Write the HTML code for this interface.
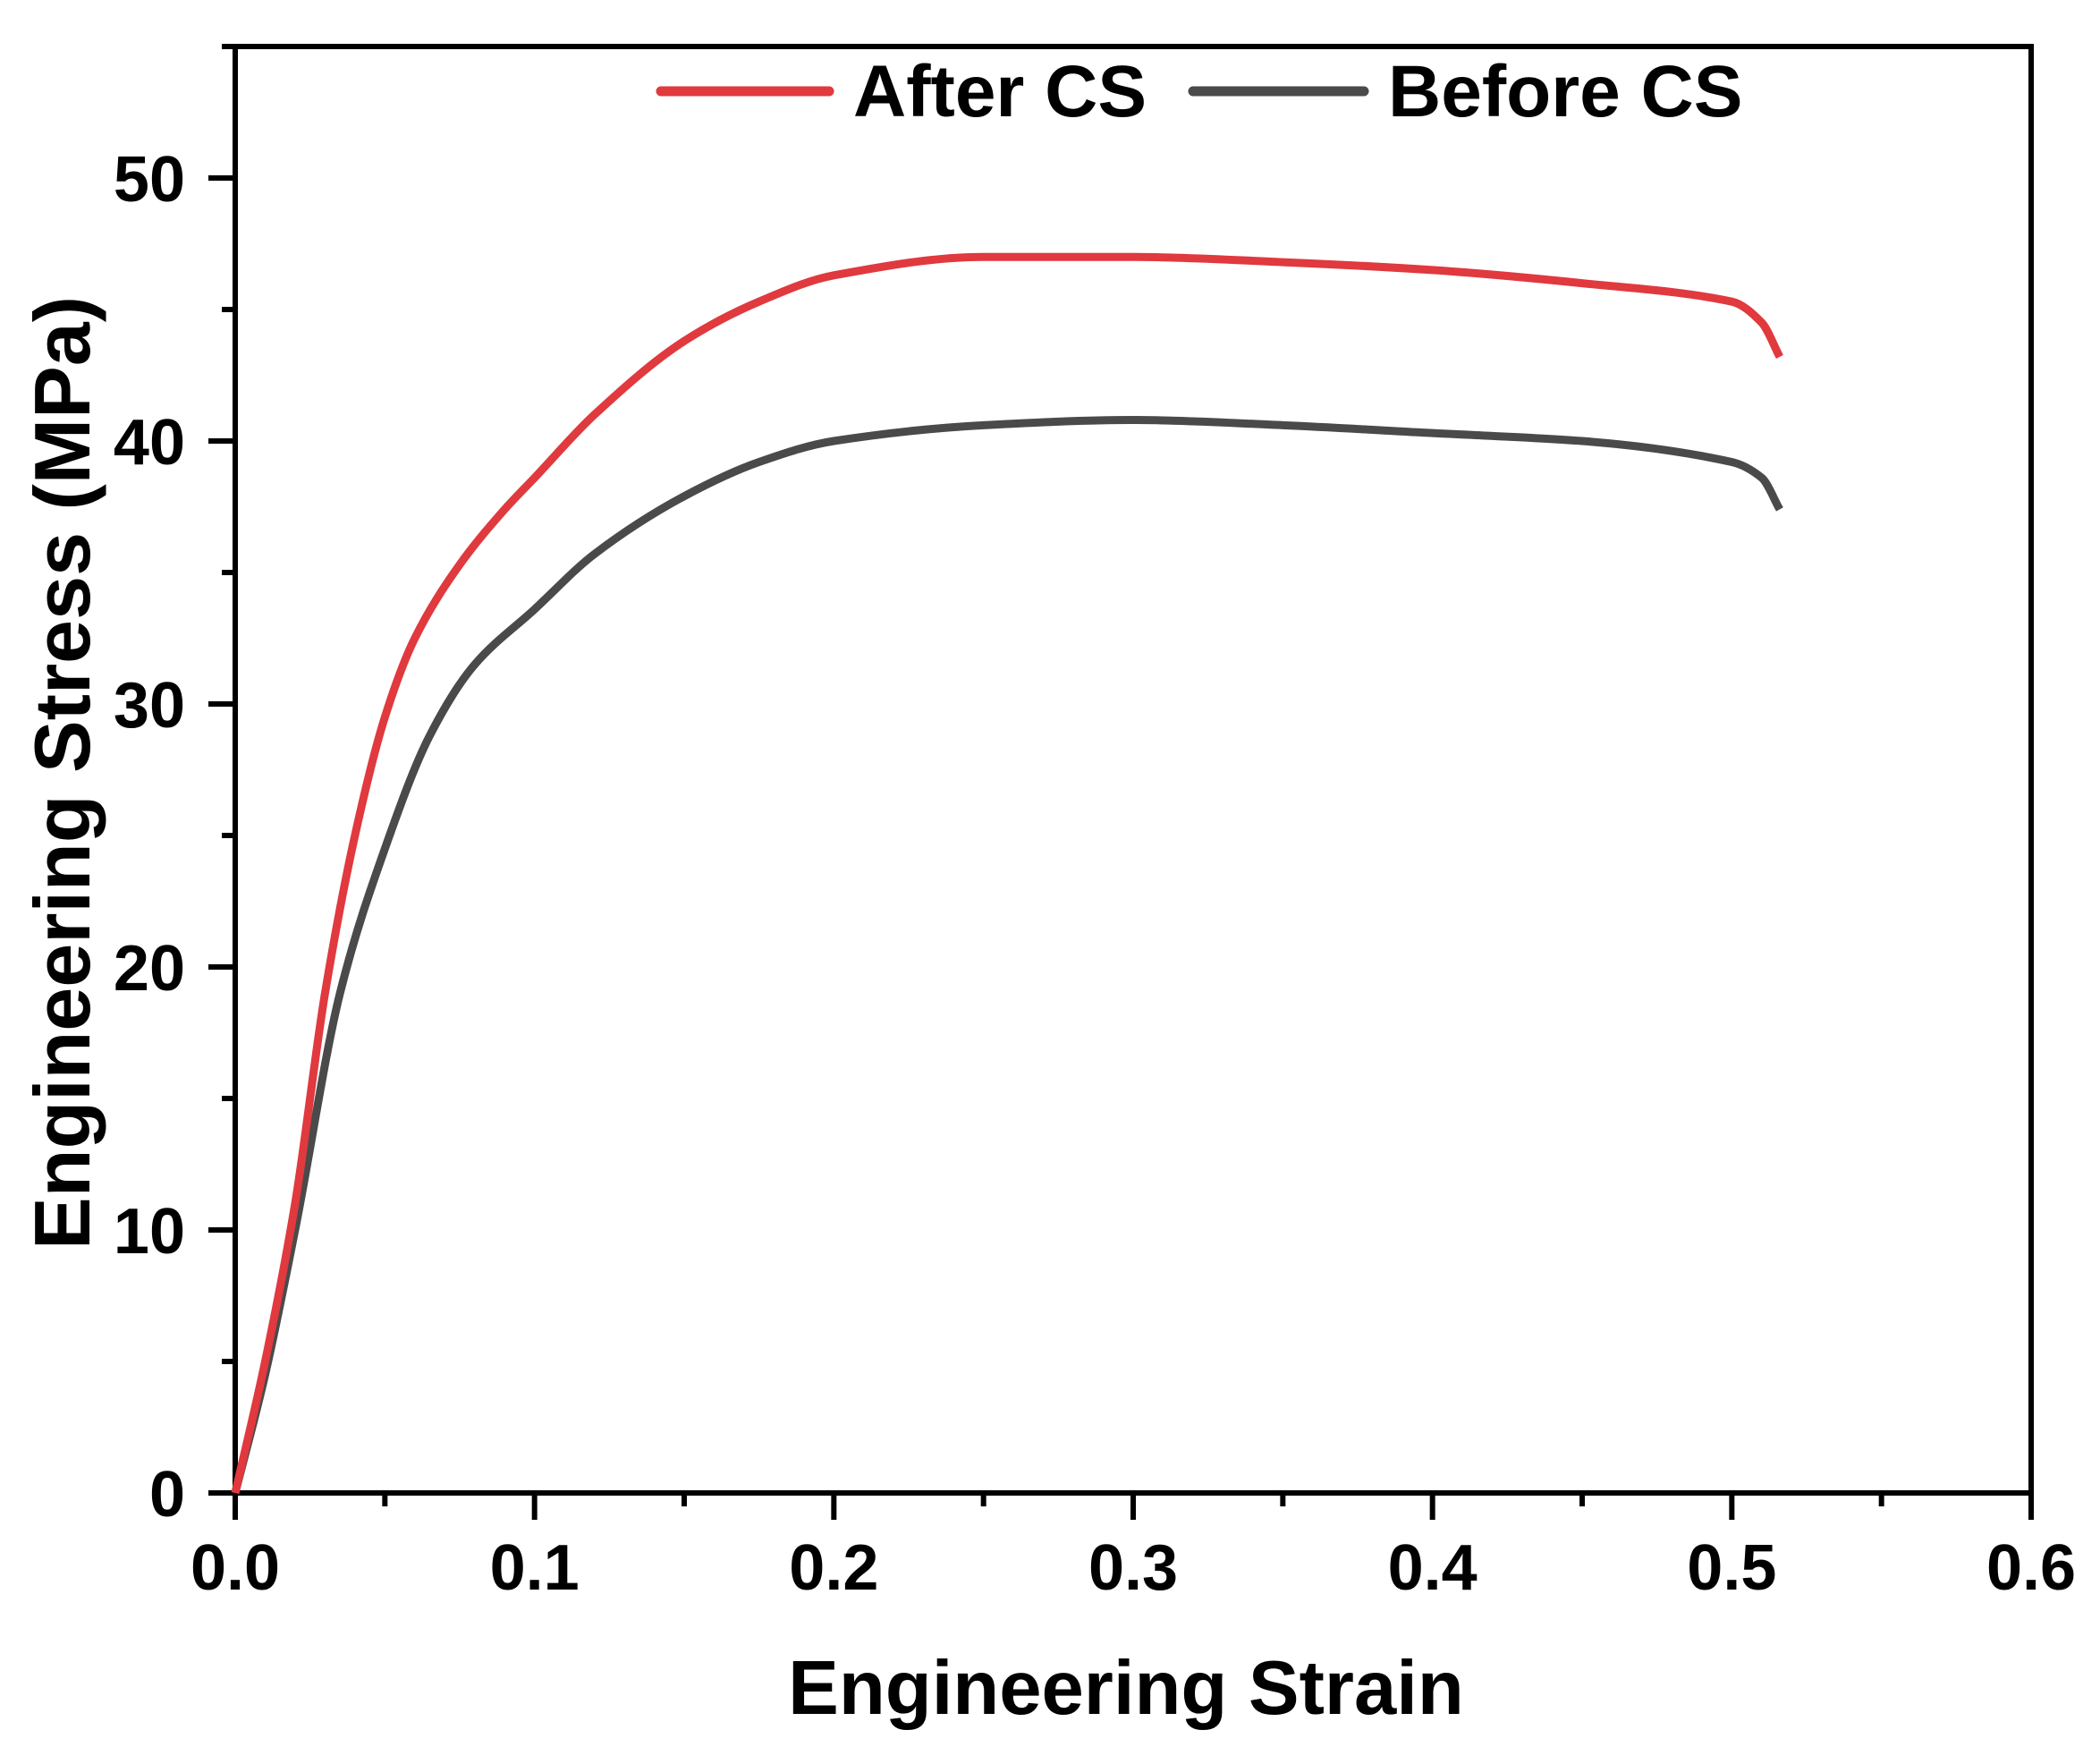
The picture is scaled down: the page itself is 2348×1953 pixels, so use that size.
<!DOCTYPE html>
<html><head><meta charset="utf-8"><style>
body{margin:0;background:#fff}
svg{display:block;font-family:"Liberation Sans",Arial,sans-serif;font-weight:bold}
</style></head><body>
<svg id="chart" width="2348" height="1953" viewBox="0 0 2348 1953">
<g id="axes"></g>
<g id="series"></g>
<g id="legend">
  <line x1="739" y1="102" x2="927" y2="102" stroke="#e0393e" stroke-width="11" stroke-linecap="round"/>
  <text x="954" y="130" font-size="82" fill="#000">After CS</text>
  <line x1="1334" y1="102" x2="1525" y2="102" stroke="#4a4a4a" stroke-width="11" stroke-linecap="round"/>
  <text x="1552" y="130" font-size="82" fill="#000">Before CS</text>
</g>
<text x="1259" y="1916" font-size="85" text-anchor="middle">Engineering Strain</text>
<text transform="translate(100,864) rotate(-90)" font-size="88" text-anchor="middle">Engineering Stress (MPa)</text>
</svg>
<script>
const xTicks=[0,0.1,0.2,0.3,0.4,0.5,0.6];
const xTickLabels=["0.0","0.1","0.2","0.3","0.4","0.5","0.6"];
const yTicks=[0,10,20,30,40,50];
const yTickLabels=["0","10","20","30","40","50"];
const afterStrain=[0,0.01,0.02,0.03,0.04,0.05,0.06,0.075,0.09,0.1,0.12,0.15,0.175,0.2,0.25,0.3,0.35,0.4,0.45,0.5,0.51,0.516];
const afterStress=[0,5,11,19,25,29.5,32.5,35.3,37.4,38.6,41,43.8,45.3,46.3,47.0,47.0,46.8,46.5,46.0,45.3,44.5,43.2];
const beforeStrain=[0,0.01,0.02,0.035,0.05,0.065,0.08,0.1,0.12,0.15,0.175,0.2,0.25,0.3,0.35,0.4,0.45,0.5,0.51,0.516];
const beforeStress=[0,4.5,10,19,24.5,28.8,31.5,33.6,35.7,37.9,39.2,40.0,40.6,40.8,40.6,40.3,40.0,39.2,38.6,37.4];

const NS="http://www.w3.org/2000/svg";
const X0=263,X1=2271,Y0=1669,Y50=199,YTOP=52;
function xs(v){return X0+(X1-X0)*v/0.6;}
function ys(v){return Y0+(Y50-Y0)*v/50;}
function mk(tag,attrs,parent){const e=document.createElementNS(NS,tag);for(const k in attrs)e.setAttribute(k,attrs[k]);parent.appendChild(e);return e;}
const axes=document.getElementById('axes');
const frame=mk('rect',{x:X0,y:YTOP,width:X1-X0,height:Y0-YTOP,fill:'none',stroke:'#000','stroke-width':6},axes);


xTicks.forEach((t,i)=>{
  const l=mk('line',{x1:xs(t),x2:xs(t),y1:Y0,y2:Y0+30,stroke:'#000','stroke-width':6},axes);
  
  
  const tx=mk('text',{x:xs(t),y:Y0+108,'font-size':72,'text-anchor':'middle'},axes);
  tx.textContent=xTickLabels[i];
  
  
  if(i<xTicks.length-1){
    const m=mk('line',{x1:xs(t+0.05),x2:xs(t+0.05),y1:Y0,y2:Y0+15,stroke:'#000','stroke-width':6},axes);
    
    
  }
});
yTicks.forEach((t,i)=>{
  const l=mk('line',{x1:X0-30,x2:X0,y1:ys(t),y2:ys(t),stroke:'#000','stroke-width':6},axes);
  
  
  const tx=mk('text',{x:207,y:ys(t)+26,'font-size':72,'text-anchor':'end'},axes);
  tx.textContent=yTickLabels[i];
  
  
  const m=mk('line',{x1:X0-15,x2:X0,y1:ys(t+5),y2:ys(t+5),stroke:'#000','stroke-width':6},axes);
  
  
});
function path(xa,ya){
  const n=xa.length,d=[],m=new Array(n);
  for(let i=0;i<n-1;i++)d.push((ya[i+1]-ya[i])/(xa[i+1]-xa[i]));
  m[0]=d[0];m[n-1]=d[n-2];
  for(let i=1;i<n-1;i++){m[i]=(d[i-1]*d[i]<=0)?0:(2/(1/d[i-1]+1/d[i]));}
  let s='M'+xs(xa[0])+','+ys(ya[0]);
  for(let i=0;i<n-1;i++){
    const h=xa[i+1]-xa[i];
    const c1x=xa[i]+h/3,c1y=ya[i]+m[i]*h/3;
    const c2x=xa[i+1]-h/3,c2y=ya[i+1]-m[i+1]*h/3;
    s+=' C'+xs(c1x)+','+ys(c1y)+' '+xs(c2x)+','+ys(c2y)+' '+xs(xa[i+1])+','+ys(ya[i+1]);
  }
  return s;
}
const sg=document.getElementById('series');
const pb=mk('path',{d:path(beforeStrain,beforeStress),fill:'none',stroke:'#4a4a4a','stroke-width':9,'stroke-linejoin':'round'},sg);


const pa=mk('path',{d:path(afterStrain,afterStress),fill:'none',stroke:'#e0393e','stroke-width':9,'stroke-linejoin':'round'},sg);


</script>
</body></html>
